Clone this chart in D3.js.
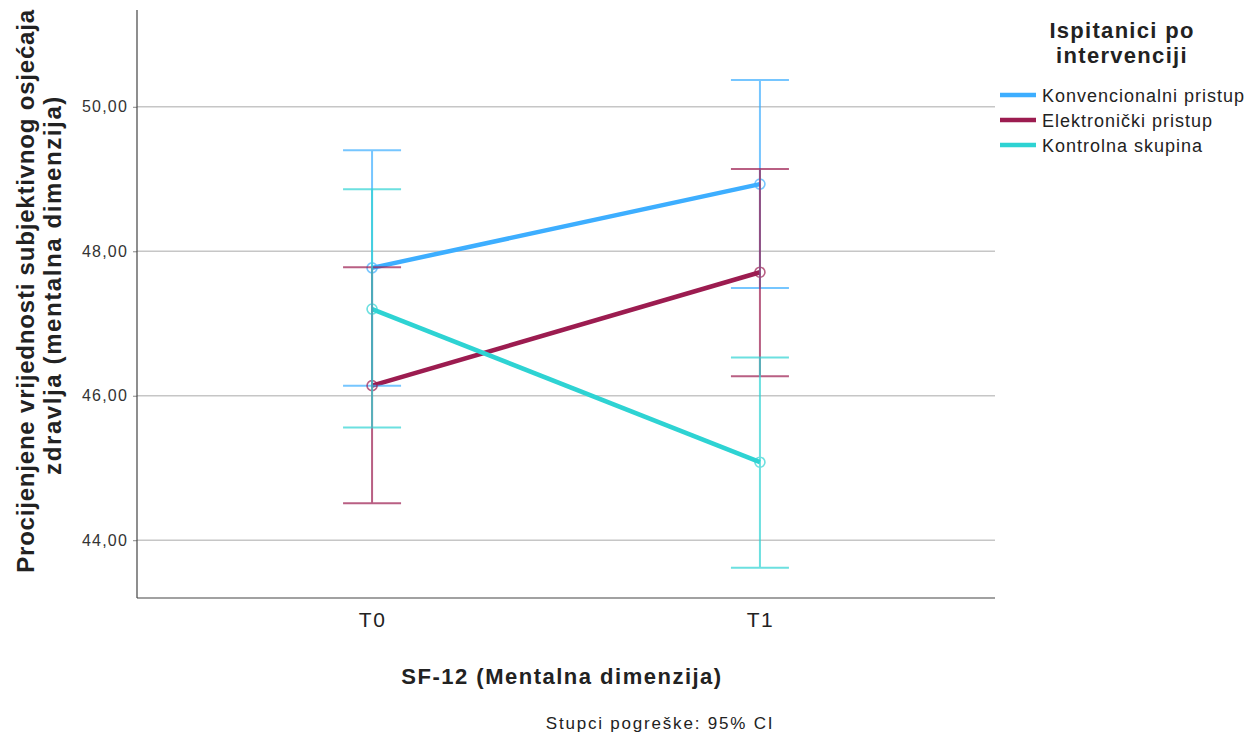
<!DOCTYPE html>
<html>
<head>
<meta charset="utf-8">
<script src="https://cdn.jsdelivr.net/npm/d3@7"></script>
<style>
    body { margin: 0; background: #fff; font-family: 'Liberation Sans', Arial, sans-serif; }
    svg text { fill: #222; }
</style>
</head>
<body>
<script>
// Data
const times = ['T0', 'T1'];
const groups = ['Konvencionalni pristup', 'Elektronički pristup', 'Kontrolna skupina'];
const colors = ['#3DAEFF', '#9C1C50', '#2ED3D3'];

const meanKonv = [47.77, 48.93];
const lowKonv = [46.14, 47.49];
const highKonv = [49.40, 50.37];

const meanElek = [46.14, 47.71];
const lowElek = [44.51, 46.27];
const highElek = [47.78, 49.14];

const meanKontr = [47.20, 45.08];
const lowKontr = [45.56, 43.62];
const highKontr = [48.86, 46.53];

const yTicks = [44, 46, 48, 50];

const series = [
    { name: groups[0], color: colors[0], mean: meanKonv, low: lowKonv, high: highKonv },
    { name: groups[1], color: colors[1], mean: meanElek, low: lowElek, high: highElek },
    { name: groups[2], color: colors[2], mean: meanKontr, low: lowKontr, high: highKontr }
];

const W = 1255, H = 736;
const margin = { left: 137, top: 10 };
const width = 858, height = 588;

let svg = d3.select('body').append('svg')
    .attr('width', W)
    .attr('height', H);

let g = svg.append('g').attr('transform', `translate(${margin.left}, ${margin.top})`);

// Scales
const x = d3.scalePoint().domain(times).range([0, width]).padding(0.606);
const y = d3.scaleLinear().domain([43.2, 51.34]).range([height, 0]);

const fmt = v => d3.format('.2f')(v).replace('.', ',');

// Gridlines
g.append('g')
    .selectAll('line')
    .data(yTicks)
    .enter()
    .append('line')
    .attr('x1', 0)
    .attr('x2', width)
    .attr('y1', d => y(d))
    .attr('y2', d => y(d))
    .attr('stroke', '#c6c6c6')
    .attr('stroke-width', 1.6);

// Y axis
let yAxis = g.append('g').call(d3.axisLeft(y).tickValues(yTicks).tickFormat(fmt).tickSize(4).tickPadding(5));
yAxis.select('.domain').remove();
yAxis.selectAll('line').attr('stroke', '#888');
yAxis.selectAll('text')
    .style('font-size', '16px')
    .style('letter-spacing', '1.2px')
    .style('fill', '#333')
    .style('font-family', 'Liberation Sans, Arial, sans-serif');

// X axis
let xAxis = g.append('g')
    .attr('transform', `translate(0, ${height})`)
    .call(d3.axisBottom(x).tickSize(0).tickPadding(14));
xAxis.select('.domain').remove();
xAxis.selectAll('text')
    .style('font-size', '21px')
    .style('letter-spacing', '1.5px')
    .style('fill', '#222')
    .style('font-family', 'Liberation Sans, Arial, sans-serif');

// Axis frame lines
g.append('line').attr('x1', 0).attr('x2', 0).attr('y1', 0).attr('y2', height)
    .attr('stroke', '#444').attr('stroke-width', 1.2);
g.append('line').attr('x1', 0).attr('x2', width).attr('y1', height).attr('y2', height)
    .attr('stroke', '#444').attr('stroke-width', 1.2);

// Lines
const line = d3.line().x((d, i) => x(times[i])).y(d => y(d));

series.forEach(s => {
    g.append('path')
        .datum(s.mean)
        .attr('d', line)
        .attr('fill', 'none')
        .attr('stroke', s.color)
        .attr('stroke-width', 4.5);
});

// Error bars and markers
const cap = 29;
series.forEach(s => {
    let eb = g.append('g').attr('opacity', 0.7);
    times.forEach((t, i) => {
        eb.append('line')
            .attr('x1', x(t)).attr('x2', x(t))
            .attr('y1', y(s.low[i])).attr('y2', y(s.high[i]))
            .attr('stroke', s.color).attr('stroke-width', 2);
        [s.low[i], s.high[i]].forEach(v => {
            eb.append('line')
                .attr('x1', x(t) - cap).attr('x2', x(t) + cap)
                .attr('y1', y(v)).attr('y2', y(v))
                .attr('stroke', s.color).attr('stroke-width', 2);
        });
        eb.append('circle')
            .attr('cx', x(t)).attr('cy', y(s.mean[i]))
            .attr('r', 5)
            .attr('fill', 'none')
            .attr('stroke', s.color)
            .attr('stroke-width', 1.6);
    });
});

// Axis titles
svg.append('text')
    .attr('x', margin.left + width / 2 - 4)
    .attr('y', 684)
    .attr('text-anchor', 'middle')
    .style('font-size', '22px')
    .style('letter-spacing', '1.5px')
    .style('font-weight', 'bold')
    .text('SF-12 (Mentalna dimenzija)');

let yTitle = svg.append('text')
    .attr('transform', 'translate(0, 291) rotate(-90)')
    .attr('text-anchor', 'middle')
    .style('font-size', '24px')
    .style('font-weight', 'bold');
yTitle.append('tspan').attr('x', 0).attr('y', 34)
    .style('letter-spacing', '0.8px')
    .text('Procijenjene vrijednosti subjektivnog osjećaja');
yTitle.append('tspan').attr('x', 6).attr('y', 61)
    .style('letter-spacing', '1.6px')
    .text('zdravlja (mentalna dimenzija)');

// Legend
let legend = svg.append('g');
let lt = legend.append('text')
    .attr('text-anchor', 'middle')
    .style('font-size', '22px')
    .style('letter-spacing', '1.3px')
    .style('font-weight', 'bold');
lt.append('tspan').attr('x', 1122).attr('y', 38).text('Ispitanici po');
lt.append('tspan').attr('x', 1122).attr('y', 63).text('intervenciji');

series.forEach((s, i) => {
    let ly = 95 + i * 25;
    legend.append('line')
        .attr('x1', 1000).attr('x2', 1036)
        .attr('y1', ly).attr('y2', ly)
        .attr('stroke', s.color)
        .attr('stroke-width', 4.5);
    legend.append('text')
        .attr('x', 1042)
        .attr('y', ly + 7)
        .style('font-size', '18px')
        .style('letter-spacing', '1px')
        .text(s.name);
});

// Footnote
svg.append('text')
    .attr('x', 660)
    .attr('y', 729)
    .attr('text-anchor', 'middle')
    .style('font-size', '17px')
    .style('letter-spacing', '1.8px')
    .text('Stupci pogreške: 95% CI');
</script>
</body>
</html>
